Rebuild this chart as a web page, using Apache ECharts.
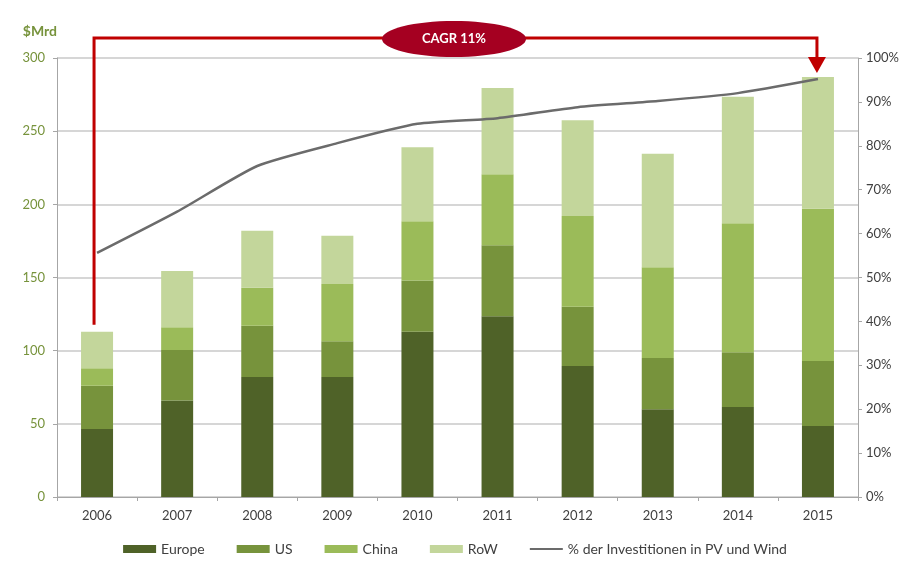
<!DOCTYPE html>
<html><head><meta charset="utf-8">
<script src="https://cdn.jsdelivr.net/npm/echarts@6/dist/echarts.min.js"></script>
<style>html,body{margin:0;padding:0;background:#fff}#c{width:910px;height:565px}</style>
</head><body><div id="c"></div>
<script>
var years = ['2006','2007','2008','2009','2010','2011','2012','2013','2014','2015'];
var europe = [46.5, 66, 82, 82, 113, 123.5, 89.5, 60, 61.5, 48.5];
var us     = [29.5, 34.5, 35, 24.5, 35, 48.5, 40.5, 35, 37.5, 44.5];
var china  = [12, 15.5, 26, 39, 40.5, 48.5, 62, 62, 88, 104];
var row    = [25, 38.5, 39, 33, 50.5, 59, 65.5, 77.5, 86.5, 90];
var share  = [55.6, 65, 75.4, 80.6, 85, 86.3, 88.8, 90.2, 92, 95.2];
var leftTicks = [0, 50, 100, 150, 200, 250, 300];
var rightTicks = [0,10,20,30,40,50,60,70,80,90,100];
var annotationText = 'CAGR 11%';

var font = 'Lato, "Open Sans", sans-serif';
var chart = echarts.init(document.getElementById('c'));
function bar(name, data, color){
  return {name:name, type:'bar', stack:'s', data:data, barWidth:32,
    itemStyle:{color:color}, emphasis:{disabled:true}};
}
chart.setOption({
  animation:false,
  textStyle:{fontFamily:font},
  grid:{left:57, right:52, top:58, bottom:68},
  legend:{bottom:4, left:'center', itemWidth:33, itemHeight:8, itemGap:32,
    textStyle:{color:'#404040', fontSize:14, fontFamily:font},
    data:[{name:'Europe',icon:'rect'},{name:'US',icon:'rect'},{name:'China',icon:'rect'},{name:'RoW',icon:'rect'},
      {name:'% der Investitionen in PV und Wind', icon:'path://M0,0L40,0L40,2.5L0,2.5Z'}]},
  xAxis:{type:'category', data:years,
    axisLine:{lineStyle:{color:'#a6a6a6'}},
    axisTick:{show:true, alignWithLabel:false, length:4, lineStyle:{color:'#a6a6a6'}},
    axisLabel:{color:'#404040', fontSize:13, margin:12}},
  yAxis:[
    {type:'value', min:leftTicks[0], max:leftTicks[leftTicks.length-1], interval:50,
      name:'$Mrd', nameLocation:'end', nameGap:20,
      nameTextStyle:{color:'#77933c', fontSize:14, fontWeight:'bold', align:'right'},
      axisLine:{show:true, lineStyle:{color:'#a6a6a6'}},
      axisTick:{show:true, length:4, lineStyle:{color:'#a6a6a6'}},
      axisLabel:{color:'#77933c', fontSize:13, margin:12},
      splitLine:{lineStyle:{color:'#c8c8c8', width:1.5}}},
    {type:'value', min:0, max:100, interval:10, position:'right',
      axisLine:{show:true, lineStyle:{color:'#a6a6a6'}},
      axisTick:{show:true, length:4, lineStyle:{color:'#a6a6a6'}},
      axisLabel:{color:'#404040', fontSize:13, margin:8, formatter:'{value}%'},
      splitLine:{show:false}}
  ],
  series:[
    bar('Europe', europe, '#4f6228'),
    bar('US', us, '#77933c'),
    bar('China', china, '#9bbb59'),
    bar('RoW', row, '#c3d69b'),
    {name:'% der Investitionen in PV und Wind', type:'line', yAxisIndex:1, data:share,
      smooth:0.2, symbol:'none', lineStyle:{color:'#6b6b6b', width:2.5}, itemStyle:{color:'#6b6b6b'}, z:5}
  ]
});

var tot0 = europe[0]+us[0]+china[0]+row[0];
var totN = europe[9]+us[9]+china[9]+row[9];
var p0 = chart.convertToPixel({xAxisIndex:0,yAxisIndex:0}, [years[0], tot0]);
var pN = chart.convertToPixel({xAxisIndex:0,yAxisIndex:0}, [years[9], totN]);
var topY = 38;
var x0 = p0[0]-3, xN = pN[0]-1;
var ellCx = 454, ellRx = 72, ellRy = 18;
chart.setOption({graphic:[
  {type:'polyline', shape:{points:[[x0,p0[1]-7],[x0,topY],[xN,topY],[xN,pN[1]-18]]},
    style:{stroke:'#c00000', lineWidth:3, fill:null}, z:10},
  {type:'polygon', shape:{points:[[xN-9,pN[1]-20],[xN+9,pN[1]-20],[xN,pN[1]-4]]},
    style:{fill:'#c00000'}, z:10},
  {type:'ellipse', shape:{cx:ellCx, cy:topY+1, rx:ellRx, ry:ellRy},
    style:{fill:'#a50021'}, z:11},
  {type:'text', x:ellCx, y:topY+1, z:12,
    style:{text:annotationText, fill:'#fff', font:'bold 13px '+font, align:'center', verticalAlign:'middle'}}
]});
</script></body></html>
